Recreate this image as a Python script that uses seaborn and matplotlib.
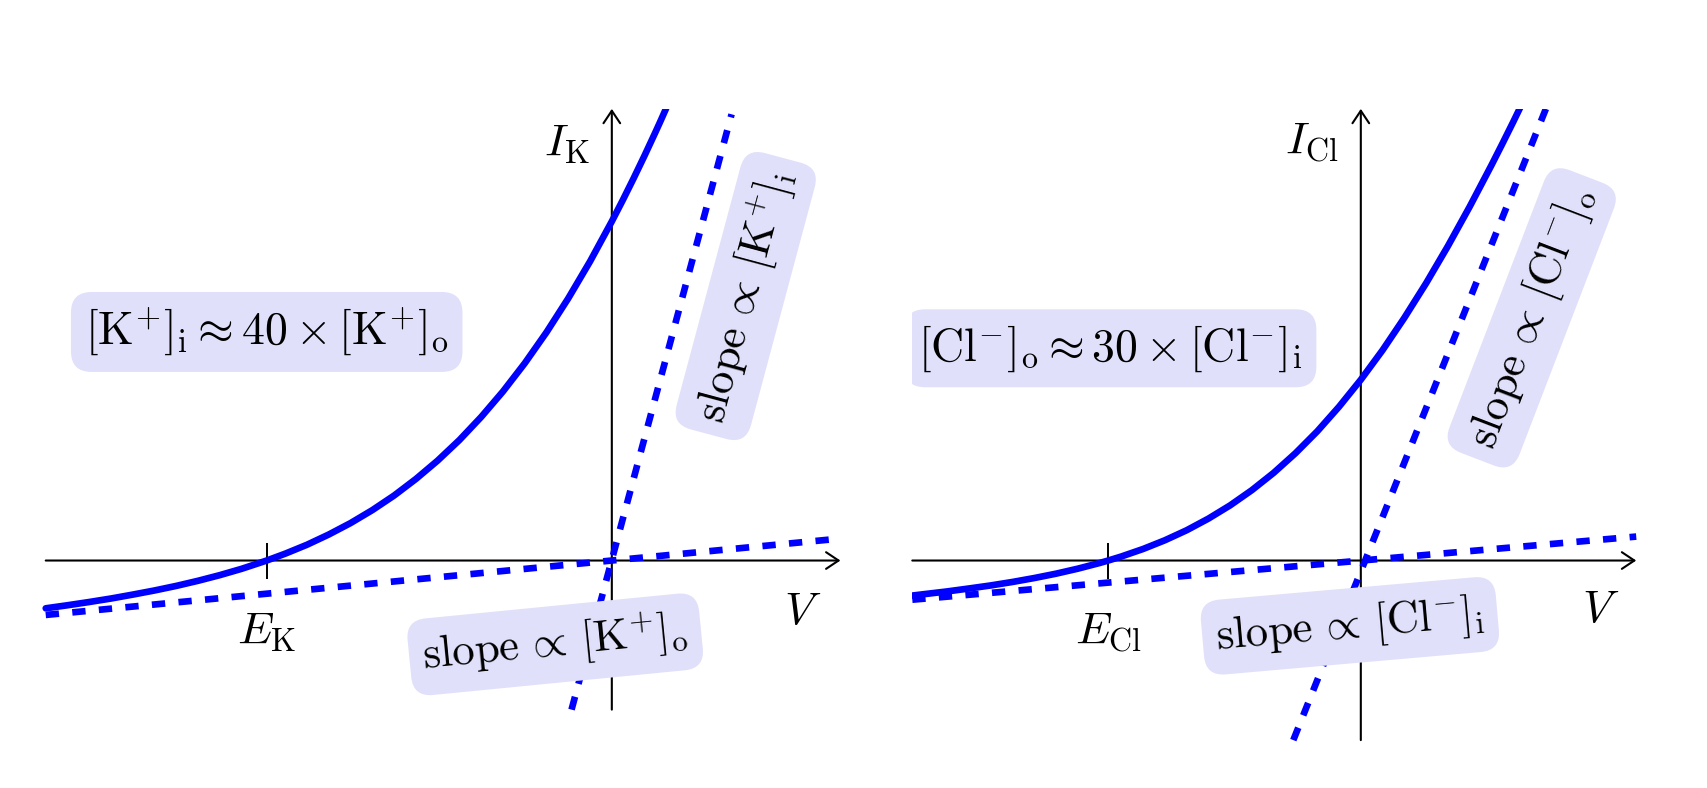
import matplotlib
matplotlib.use("Agg")
import matplotlib.pyplot as plt
import seaborn as sns

# GHK-style I-V curves (units: arbitrary, origin at axis crossing)
k_V = [-5.20, -5.00, -4.80, -4.60, -4.40, -4.20, -4.00, -3.80, -3.60, -3.40,
       -3.17, -3.00, -2.80, -2.60, -2.40, -2.20, -2.00, -1.80, -1.60, -1.40,
       -1.20, -1.00, -0.80, -0.60, -0.40, -0.20, 0.00, 0.10, 0.20, 0.30,
       0.40, 0.45, 0.50]
k_I = [-0.439, -0.411, -0.381, -0.349, -0.313, -0.275, -0.233, -0.186, -0.134, -0.076,
       0.000, 0.063, 0.145, 0.239, 0.344, 0.463, 0.597, 0.749, 0.918, 1.107,
       1.319, 1.553, 1.812, 2.097, 2.409, 2.748, 3.116, 3.310, 3.511, 3.719,
       3.934, 4.044, 4.157]
cl_V = [-4.12, -3.80, -3.60, -3.40, -3.20, -3.00, -2.80, -2.60, -2.40, -2.32,
        -2.20, -2.00, -1.80, -1.60, -1.40, -1.20, -1.00, -0.80, -0.60, -0.40,
        -0.20, 0.00, 0.20, 0.40, 0.60, 0.80, 1.00, 1.20, 1.30, 1.40, 1.50]
cl_I = [-0.322, -0.284, -0.257, -0.229, -0.197, -0.161, -0.121, -0.075, -0.023, 0.000,
        0.037, 0.106, 0.186, 0.278, 0.385, 0.507, 0.647, 0.806, 0.986, 1.187,
        1.413, 1.661, 1.933, 2.230, 2.548, 2.889, 3.251, 3.632, 3.829, 4.030, 4.236]

# asymptotes (dashed)
k_steep_V, k_steep_I = [-0.37, 1.10], [-1.37, 4.10]
k_flat_V, k_flat_I = [-5.20, 2.08], [-0.50, 0.20]
cl_steep_V, cl_steep_I = [-0.62, 1.70], [-1.65, 4.15]
cl_flat_V, cl_flat_I = [-4.12, 2.53], [-0.36, 0.22]

E_K = -3.17
E_Cl = -2.32

sns.set_theme(style="white")
plt.rcParams["mathtext.fontset"] = "cm"
plt.rcParams["font.family"] = ["DejaVu Serif"]
plt.rcParams["text.color"] = "black"
plt.rcParams["xtick.color"] = "black"
plt.rcParams["xtick.labelcolor"] = "black"

W, H = 1568, 724
fig = plt.figure(figsize=(17.07, 7.88), dpi=100)


def make_axes(left, right, top, bottom):
    return fig.add_axes([left / W, 1 - bottom / H, (right - left) / W, (bottom - top) / H])


BLUE = "#0000ff"
BOX = dict(boxstyle="round,pad=0.3,rounding_size=0.45", fc="#e0e0fa", ec="none")
FS = 33
FS_SLOPE = 32


def panel(ax, V, I, sV, sI, fV, fI, E, xlim, ylim, xaxis, yaxis, ion):
    ax.set_xlim(*xlim)
    ax.set_ylim(*ylim)
    for s in ax.spines.values():
        s.set_visible(False)
    ax.spines["bottom"].set_position(("data", 0))
    ax.set_yticks([])
    ax.set_xticks([E], labels=[rf"$E_{{\mathrm{{{ion}}}}}$"])
    ax.tick_params(axis="x", direction="inout", length=26, width=1.4, color="black",
                   labelsize=FS, labelcolor="black", pad=22, bottom=True)
    # axes with arrow heads
    arrow = dict(arrowstyle="->,head_length=0.45,head_width=0.3", lw=1.5, color="black",
                 shrinkA=0, shrinkB=0, mutation_scale=20)
    ax.annotate("", xy=(xaxis[1], 0), xytext=(xaxis[0], 0), arrowprops=arrow,
                annotation_clip=False, zorder=1)
    ax.annotate("", xy=(0, yaxis[1]), xytext=(0, yaxis[0]), arrowprops=arrow,
                annotation_clip=False, zorder=1)
    sns.lineplot(x=V, y=I, ax=ax, sort=False, color=BLUE, lw=4.8, zorder=3)
    for lv, li in ((sV, sI), (fV, fI)):
        ax.plot(lv, li, color=BLUE, lw=4.8, dashes=(2.0, 2.0), zorder=2,
                dash_capstyle="butt")
    ax.set_xlabel("")
    ax.set_ylabel("")


axL = make_axes(32, 782, 100, 665)
panel(axL, k_V, k_I, k_steep_V, k_steep_I, k_flat_V, k_flat_I, E_K,
      (-5.30, 2.20), (-1.50, 4.15), (-5.20, 2.10), (-1.37, 4.15), "K")
axR = make_axes(838, 1515, 100, 690)
panel(axR, cl_V, cl_I, cl_steep_V, cl_steep_I, cl_flat_V, cl_flat_I, E_Cl,
      (-4.12, 2.65), (-1.75, 4.15), (-4.12, 2.53), (-1.65, 4.15), "Cl")

# axis labels
axL.text(-0.20, 3.83, r"$I_{\mathrm{K}}$", fontsize=FS, ha="right", va="center")
axL.text(1.75, -0.47, r"$V$", fontsize=FS, ha="center", va="center")
axR.text(-0.20, 3.85, r"$I_{\mathrm{Cl}}$", fontsize=FS, ha="right", va="center")
axR.text(2.20, -0.45, r"$V$", fontsize=FS, ha="center", va="center")

# annotation boxes
axL.text(-3.17, 2.10, r"$[\mathrm{K}^{+}]_{\mathrm{i}} \approx 40 \times [\mathrm{K}^{+}]_{\mathrm{o}}$",
         fontsize=FS, ha="center", va="center", bbox=BOX, zorder=5)
axL.text(1.23, 2.43, r"$\mathrm{slope}\,\propto\,[\mathrm{K}^{+}]_{\mathrm{i}}$",
         fontsize=FS_SLOPE, ha="center", va="center", rotation=75, rotation_mode="anchor",
         bbox=BOX, zorder=5)
axL.text(-0.52, -0.77, r"$\mathrm{slope}\,\propto\,[\mathrm{K}^{+}]_{\mathrm{o}}$",
         fontsize=FS_SLOPE, ha="center", va="center", rotation=5.6, rotation_mode="anchor",
         bbox=BOX, zorder=5)
axR.text(-2.30, 1.95, r"$[\mathrm{Cl}^{-}]_{\mathrm{o}} \approx 30 \times [\mathrm{Cl}^{-}]_{\mathrm{i}}$",
         fontsize=FS, ha="center", va="center", bbox=BOX, zorder=5, clip_on=True)
axR.text(1.57, 2.23, r"$\mathrm{slope}\,\propto\,[\mathrm{Cl}^{-}]_{\mathrm{o}}$",
         fontsize=FS_SLOPE, ha="center", va="center", rotation=69, rotation_mode="anchor",
         bbox=BOX, zorder=5)
axR.text(-0.10, -0.60, r"$\mathrm{slope}\,\propto\,[\mathrm{Cl}^{-}]_{\mathrm{i}}$",
         fontsize=FS_SLOPE, ha="center", va="center", rotation=5, rotation_mode="anchor",
         bbox=BOX, zorder=5)

fig.savefig("out.png", dpi=100, facecolor="white")
